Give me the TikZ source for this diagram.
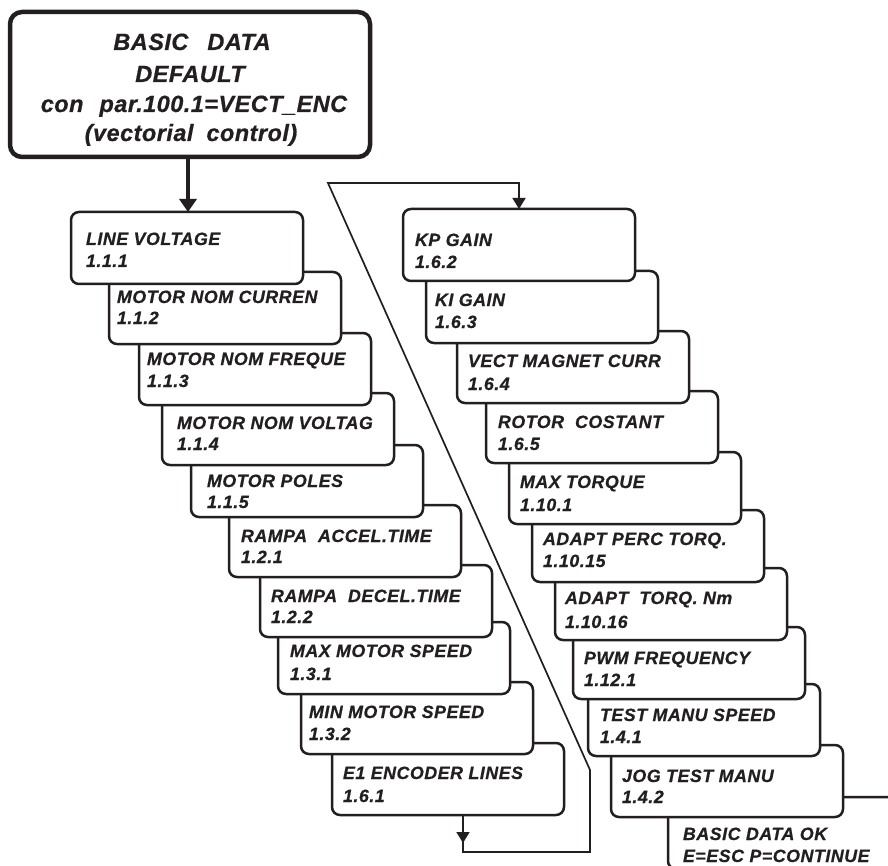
\documentclass[tikz,border=0pt]{standalone}
\usepackage{fontspec}
\setmainfont{Liberation Sans}
\newfontfamily\stepfont[LetterSpace=3,FakeBold=0.6]{Liberation Sans}
\newfontfamily\headfont[LetterSpace=2,FakeBold=0.6]{Liberation Sans}
\usetikzlibrary{arrows.meta}
\definecolor{ink}{HTML}{231F20}

\tikzset{
  stepbox/.style={draw=ink, line width=2.5pt, fill=white, rounded corners=8pt,
    minimum width=232pt, minimum height=72pt, inner sep=0pt, outer sep=0pt,
    anchor=north west},
  steptext/.style={inner sep=0pt, outer sep=0pt, anchor=base west, text=ink,
    font=\stepfont\fontsize{17.8}{20}\selectfont\bfseries\itshape},
  headbox/.style={draw=ink, line width=4.5pt, fill=white, rounded corners=12pt,
    minimum width=360pt, minimum height=145pt, inner sep=0pt, outer sep=0pt,
    anchor=north west},
  headtext/.style={inner sep=0pt, outer sep=0pt, anchor=base, text=ink,
    font=\headfont\fontsize{23.5}{26}\selectfont\bfseries\itshape},
  flow/.style={draw=ink, line width=1.7pt},
  flowtip/.style={-{Triangle[width=13pt,length=11pt]}},
  bigarrow/.style={draw=ink, line width=4.5pt, -{Triangle[width=17pt,length=13pt]}},
}

% one parameter box: name, left, top, text indent, title baseline, number baseline, title, number
\newcommand\parambox[8]{%
  \node[stepbox] (#1) at (#2,#3) {};
  \node[steptext] (#1-t) at ([xshift=#4pt,yshift=-#5pt]#1.north west) {#7};
  \node[steptext] (#1-n) at ([xshift=#4pt,yshift=-#6pt]#1.north west) {#8};
}
\newcommand\wgap{\hspace{12pt}}

\begin{document}
\begin{tikzpicture}[x=1pt,y=-1pt]
\path[use as bounding box, fill=white] (0,0) rectangle (888,866);
\clip (0,0) rectangle (888,866);

% header
\node[headbox] (head) at (10,12) {};
\node[headtext] (h1) at (192,50) {BASIC \wgap DATA};
\node[headtext] (h2) at (190,82) {DEFAULT};
\node[headtext] (h3) at (194,112) {con \hspace{9pt}par.100.1=VECT\_ENC};
\node[headtext] (h4) at (191,141) {(vectorial \hspace{6pt}control)};

% left column, drawn bottom-up so each box overlaps the next one
\parambox{b10}{332}{743}{11}{36}{59}{E1 ENCODER LINES}{1.6.1}
\parambox{b9}{301}{682}{8}{36}{58}{MIN MOTOR SPEED}{1.3.2}
\parambox{b8}{278}{622}{12}{35}{58}{MAX MOTOR SPEED}{1.3.1}
\parambox{b7}{260}{565}{11}{37}{58}{RAMPA~ DECEL.TIME}{1.2.2}
\parambox{b6}{229}{505}{12}{37}{58}{RAMPA~ ACCEL.TIME}{1.2.1}
\parambox{b5}{191}{445}{16}{42}{63}{MOTOR POLES}{1.1.5}
\parambox{b4}{162}{393}{15}{36}{57}{MOTOR NOM VOLTAG}{1.1.4}
\parambox{b3}{139}{333}{8}{32}{54}{MOTOR NOM FREQUE}{1.1.3}
\parambox{b2}{109}{272}{8}{31}{52}{MOTOR NOM CURREN}{1.1.2}
\parambox{b1}{71}{212}{15}{33}{55}{LINE VOLTAGE}{1.1.1}

% right column
\parambox{ok}{668}{797}{15}{43}{65}{BASIC DATA OK}{E=ESC P=CONTINUE}
\parambox{jog}{611}{745}{11}{37}{58}{JOG TEST MANU}{1.4.2}
\parambox{test}{588}{684}{12}{37}{59}{TEST MANU SPEED}{1.4.1}
\parambox{pwm}{573}{627}{11}{37}{59}{PWM FREQUENCY}{1.12.1}
\parambox{adt}{555}{568}{10}{36}{60}{ADAPT~ TORQ. Nm}{1.10.16}
\parambox{adp}{532}{510}{11}{35}{57}{ADAPT PERC TORQ.}{1.10.15}
\parambox{maxt}{509}{452}{11}{36}{59}{MAX TORQUE}{1.10.1}
\parambox{rotor}{486}{391}{12}{37}{59}{ROTOR~ COSTANT}{1.6.5}
\parambox{vect}{457}{331}{11}{36}{59}{VECT MAGNET CURR}{1.6.4}
\parambox{ki}{426}{271}{9}{35}{57}{KI GAIN}{1.6.3}
\parambox{kp}{403}{209}{12}{37}{59}{KP GAIN}{1.6.2}

% connectors
\draw[bigarrow] ([xshift=-2pt]head.south) -- ([xshift=-2pt]head.south |- b1.north);

\coordinate (turn) at (590,770);
\coordinate (corner) at (328,183);
\draw[flow, flowtip] ([xshift=15pt]b10.south) -- ++(0,28);
\draw[flow, flowtip] ([xshift=15pt]b10.south) -- ++(0,37) -| (turn) -- (corner) -| (kp.north);
\end{tikzpicture}
\end{document}
